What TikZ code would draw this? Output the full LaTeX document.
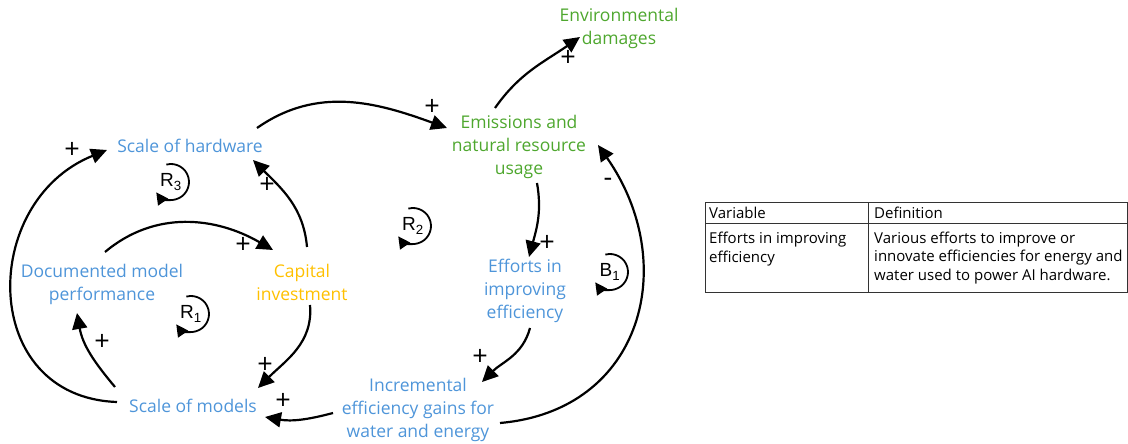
\documentclass[tikz,border=0pt]{standalone}
\usepackage{fontspec}
\setmainfont{Open Sans}
\newfontfamily\loopfont{Liberation Sans}
\usetikzlibrary{arrows.meta,positioning}
\definecolor{varblue}{HTML}{4E95D9}
\definecolor{vargreen}{HTML}{4EA72E}
\definecolor{varyellow}{HTML}{FFC000}
\tikzset{
  var/.style={align=center,inner sep=1pt,font=\fontsize{17.5}{23}\selectfont},
  link/.style={line width=2.2pt,-{Triangle[length=16pt,width=15pt]}},
  sign/.style={inner sep=0pt,font=\fontsize{27}{27}\selectfont},
  loopname/.style={inner sep=0pt,font=\loopfont\fontsize{19}{19}\selectfont},
  loopsym/.style={line width=1.8pt,-{Triangle[length=12pt,width=12pt]}},
  cell/.style={inner sep=0pt,align=left,font=\fontsize{15}{18.5}\selectfont},
  tableline/.style={line width=0.8pt,black!80}
}
\begin{document}
\begin{tikzpicture}[x=1pt,y=1pt]
\useasboundingbox (0,0) rectangle (1128,444);
% variables
\node[var,text=vargreen] (env) at (619,416) {Environmental\\damages};
\node[var,text=vargreen] (emis) at (519,297) {Emissions and\\natural resource\\usage};
\node[var,text=varblue] (hw) at (190,298) {Scale of hardware};
\node[var,text=varblue] (doc) at (102,160) {Documented model\\performance};
\node[var,text=varyellow] (cap) at (302,162) {Capital\\investment};
\node[var,text=varblue] (eff) at (525,153) {Efforts in\\improving\\efficiency};
\node[var,text=varblue] (inc) at (418,34) {Incremental\\efficiency gains for\\water and energy};
\node[var,text=varblue] (mod) at (193,38) {Scale of models};
% links
\draw[link] ([shift={(67,18)}]hw.center) to[out=35,in=160] ([shift={(-72,19)}]emis.center);
\draw[link] ([shift={(-24,39)}]emis.center) to[out=55,in=215] ([shift={(-39,-9)}]env.center);
\draw[link] ([shift={(18,-36)}]emis.center) to[out=-80,in=75] ([shift={(4,34)}]eff.center);
\draw[link] ([shift={(5,-37)}]eff.center) to[out=-105,in=45] ([shift={(64,28)}]inc.center);
\draw[link] ([shift={(82,-13)}]inc.center) to[out=5,in=-55,looseness=1.25] ([shift={(79,2)}]emis.center);
\draw[link] ([shift={(-85,-3)}]inc.center) to[out=195,in=-10] ([shift={(72,-11)}]mod.center);
\draw[link] ([shift={(-76,4)}]mod.center) to[out=178,in=202,looseness=1.4] ([shift={(-83,-4)}]hw.center);
\draw[link] ([shift={(-78,19)}]mod.center) to[out=130,in=-80] ([shift={(-25,-29)}]doc.center);
\draw[link] ([shift={(3,32)}]doc.center) to[out=40,in=150] ([shift={(-29,32)}]cap.center);
\draw[link] ([shift={(5,35)}]cap.center) to[out=95,in=-45] ([shift={(63,-14)}]hw.center);
\draw[link] ([shift={(8,-23)}]cap.center) to[out=-85,in=45] ([shift={(65,18)}]mod.center);
% polarities
\node[sign] (s1) at (432,337) {+};
\node[sign] (s2) at (568,386) {+};
\node[sign] (s3) at (547,201) {+};
\node[sign] (s4) at (480,87) {+};
\node[sign] (s5) at (608,262) {-};
\node[sign] (s6) at (283,43) {+};
\node[sign] (s7) at (72,294) {+};
\node[sign] (s8) at (102,102) {+};
\node[sign] (s9) at (243,199) {+};
\node[sign] (s10) at (267,259) {+};
\node[sign] (s11) at (265,79) {+};
% loops
\node[loopname] (r3) at (171,262) {R\textsubscript{3}};
\node[loopname] (r1) at (191,130) {R\textsubscript{1}};
\node[loopname] (r2) at (413,218) {R\textsubscript{2}};
\node[loopname] (b1) at (610,172) {B\textsubscript{1}};
\foreach \l in {r3,r1,r2,b1}
  \draw[loopsym] ([shift={(105:18)}]\l.center) arc[start angle=105,end angle=-145,radius=18];
% table
\draw[tableline] (705,152) rectangle (1127,242);
\draw[tableline] (705,221) -- (1127,221);
\draw[tableline] (868,152) -- (868,242);
\node[cell,anchor=west] (tvar) at (709,231) {Variable};
\node[cell,anchor=west] (tdef) at (874,231) {Definition};
\node[cell,anchor=west] (teff) at (709,195) {Efforts in improving\\efficiency};
\node[cell,anchor=west] (ttxt) at (874,186) {Various efforts to improve or\\innovate efficiencies for energy and\\water used to power AI hardware.};
\end{tikzpicture}
\end{document}
